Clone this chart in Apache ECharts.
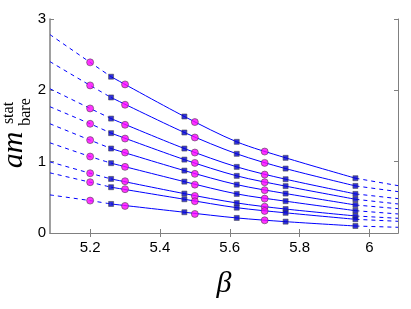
<!DOCTYPE html>
<html>
<head>
<meta charset="utf-8">
<script src="https://cdn.jsdelivr.net/npm/echarts@6/dist/echarts.min.js"></script>
<style>html,body{margin:0;padding:0;background:#fff;}#c{width:411px;height:309px;}</style>
</head>
<body>
<div id="c"></div>
<script>
// beta values of the two data sets
const betaCircles = [5.2, 5.3, 5.5, 5.7];
const betaSquares = [5.26, 5.47, 5.62, 5.76, 5.96];
// axis range and ticks
const betaMin = 5.085, betaMax = 6.082;
const xTicks = [5.2, 5.4, 5.6, 5.8, 6];
const yTicks = [0, 1, 2, 3];
// circle values per curve (at betaCircles)
const circleVals = [
  [2.392, 2.083, 1.555, 1.142],
  [2.069, 1.798, 1.339, 0.983],
  [1.746, 1.517, 1.128, 0.819],
  [1.531, 1.324, 0.983, 0.712],
  [1.302, 1.128, 0.829, 0.600],
  [1.072, 0.927, 0.678, 0.482],
  [0.838, 0.726, 0.520, 0.369],
  [0.712, 0.614, 0.445, 0.309],
  [0.454, 0.379, 0.267, 0.178]
];
// square values per curve (at betaSquares)
const squareVals = [
  [2.191, 1.633, 1.278, 1.054, 0.768],
  [1.900, 1.409, 1.110, 0.903, 0.660],
  [1.604, 1.184, 0.927, 0.754, 0.548],
  [1.400, 1.029, 0.801, 0.657, 0.473],
  [1.184, 0.875, 0.678, 0.553, 0.393],
  [0.979, 0.720, 0.548, 0.446, 0.313],
  [0.758, 0.552, 0.421, 0.336, 0.239],
  [0.642, 0.473, 0.355, 0.283, 0.192],
  [0.407, 0.291, 0.211, 0.159, 0.098]
];
// fit curve values at the plot edges (extrapolated, dashed)
const leftEdge = [2.781, 2.402, 2.022, 1.770, 1.531, 1.264, 0.997, 0.843, 0.534];
const rightEdge = [0.664, 0.580, 0.482, 0.407, 0.341, 0.267, 0.206, 0.164, 0.080];

const lineColor = '#0000ff';
const series = [];
for (let i = 0; i < squareVals.length; i++) {
  const sq = squareVals[i];
  series.push({
    type: 'line', smooth: 0.3, symbol: 'none', silent: true, z: 2,
    lineStyle: {color: lineColor, width: 1, type: [4, 4]},
    data: [[betaMin, leftEdge[i]], [betaCircles[0], circleVals[i][0]], [betaSquares[0], sq[0]]]
  });
  series.push({
    type: 'line', smooth: 0.3, symbol: 'none', silent: true, z: 2,
    lineStyle: {color: lineColor, width: 1},
    data: betaSquares.map((b, j) => [b, sq[j]])
  });
  series.push({
    type: 'line', symbol: 'none', silent: true, z: 2,
    lineStyle: {color: lineColor, width: 1, type: [4, 4]},
    data: [[betaSquares[betaSquares.length - 1], sq[sq.length - 1]], [betaMax, rightEdge[i]]]
  });
}
const circData = [], sqData = [];
circleVals.forEach(r => r.forEach((v, j) => circData.push([betaCircles[j], v])));
squareVals.forEach(r => r.forEach((v, j) => sqData.push([betaSquares[j], v])));
series.push({
  type: 'scatter', symbol: 'rect', symbolSize: 5, z: 3, data: sqData,
  itemStyle: {color: '#0000d0', borderColor: '#444', borderWidth: 0.7}
});
series.push({
  type: 'scatter', symbol: 'circle', symbolSize: 7, z: 4, data: circData,
  itemStyle: {color: '#ff00ff', borderColor: '#444', borderWidth: 0.7}
});

const frame = {lineStyle: {color: '#808080', width: 1}};
const chart = echarts.init(document.getElementById('c'), null, {renderer: 'canvas'});
chart.setOption({
  animation: false,
  backgroundColor: '#fff',
  grid: {left: 50, right: 13, top: 19, bottom: 76, containLabel: false, outerBoundsMode: 'none'},
  xAxis: [{
    type: 'value', min: betaMin, max: betaMax, position: 'bottom',
    axisLine: frame,
    axisTick: {inside: true, length: 4, customValues: xTicks, lineStyle: {color: '#808080'}},
    axisLabel: {customValues: xTicks, margin: 7, color: '#000', fontSize: 15, fontFamily: 'Liberation Sans',
      formatter: v => String(+v.toFixed(1))},
    splitLine: {show: false},
    name: 'β', nameLocation: 'middle', nameGap: 36,
    nameTextStyle: {fontFamily: 'Liberation Serif', fontStyle: 'italic', fontSize: 30, color: '#000'}
  }, {
    type: 'value', min: betaMin, max: betaMax, position: 'top',
    axisLine: frame,
    axisTick: {inside: true, length: 4, customValues: xTicks, lineStyle: {color: '#808080'}},
    axisLabel: {show: false}, splitLine: {show: false}
  }],
  yAxis: [{
    type: 'value', min: 0, max: 3, interval: 1, position: 'left',
    axisLine: {show: true, lineStyle: {color: '#808080', width: 1.5}},
    axisTick: {inside: true, length: 4, lineStyle: {color: '#808080'}},
    axisLabel: {margin: 4, color: '#000', fontSize: 15, fontFamily: 'Liberation Sans'},
    splitLine: {show: false}
  }, {
    type: 'value', min: 0, max: 3, interval: 1, position: 'right',
    axisLine: {show: true, lineStyle: {color: '#808080', width: 1}},
    axisTick: {inside: true, length: 4, lineStyle: {color: '#808080'}},
    axisLabel: {show: false}, splitLine: {show: false}
  }],
  graphic: [
    {type: 'text', x: 14, y: 150, rotation: Math.PI / 2,
     style: {text: 'am', font: 'italic 30px "Liberation Serif"', fill: '#000', textAlign: 'center', textVerticalAlign: 'middle'}},
    {type: 'text', x: 9, y: 113, rotation: Math.PI / 2,
     style: {text: 'stat', font: '16px "Liberation Serif"', fill: '#000', textAlign: 'center', textVerticalAlign: 'middle'}},
    {type: 'text', x: 26, y: 112, rotation: Math.PI / 2,
     style: {text: 'bare', font: '16px "Liberation Serif"', fill: '#000', textAlign: 'center', textVerticalAlign: 'middle'}}
  ],
  series: series
});
</script>
</body>
</html>
